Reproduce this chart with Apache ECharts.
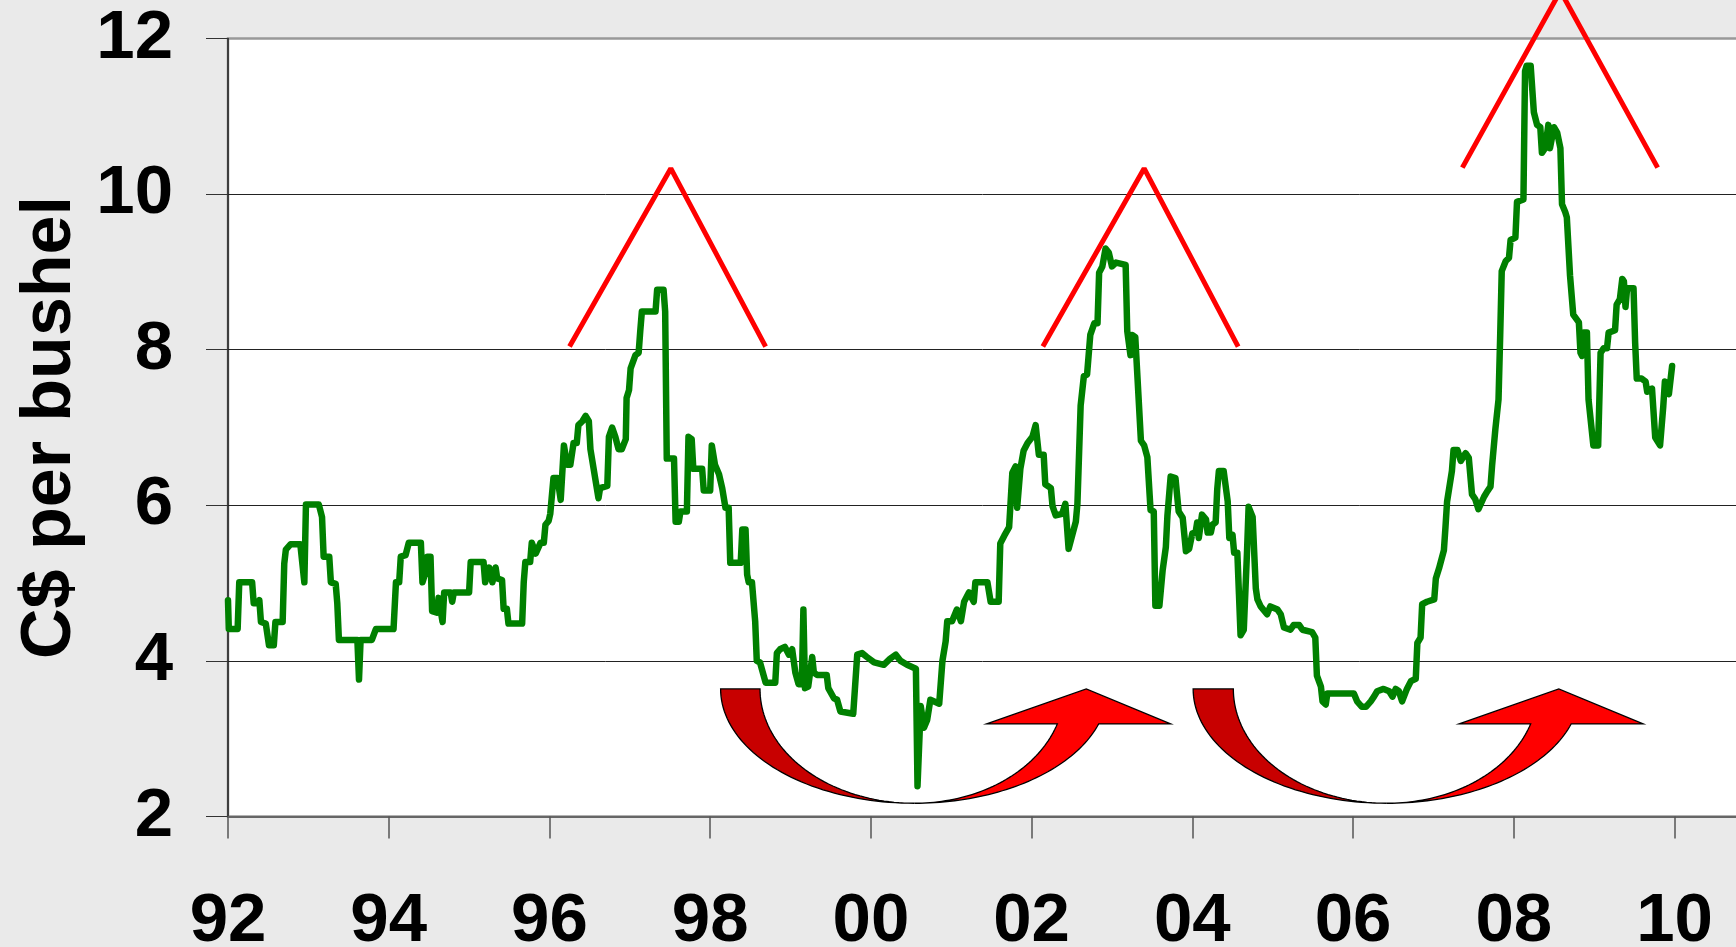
<!DOCTYPE html>
<html>
<head>
<meta charset="utf-8">
<title>C$ per bushel</title>
<script src="https://cdn.jsdelivr.net/npm/echarts@6/dist/echarts.min.js"></script>
<style>
    html, body { margin: 0; padding: 0; background: #eaeaea; }
    #main { width: 1736px; height: 947px; }
</style>
</head>
<body>
<div id="main"></div>
<script>
// 价格序列 (decimal year, C$ per bushel)
var dates = [
    1992.00, 1992.01, 1992.12, 1992.14, 1992.30, 1992.32, 1992.37, 1992.39, 1992.41, 1992.47,
    1992.51, 1992.57, 1992.59, 1992.68, 1992.70, 1992.72, 1992.78, 1992.90, 1992.95, 1992.97,
    1993.13, 1993.17, 1993.19, 1993.26, 1993.28, 1993.34, 1993.36, 1993.38, 1993.61, 1993.63,
    1993.65, 1993.79, 1993.84, 1994.06, 1994.09, 1994.13, 1994.15, 1994.21, 1994.25, 1994.40,
    1994.42, 1994.45, 1994.48, 1994.52, 1994.54, 1994.60, 1994.62, 1994.67, 1994.69, 1994.77,
    1994.79, 1994.81, 1995.00, 1995.02, 1995.18, 1995.20, 1995.25, 1995.29, 1995.33, 1995.35,
    1995.41, 1995.43, 1995.47, 1995.49, 1995.66, 1995.68, 1995.70, 1995.76, 1995.78, 1995.83,
    1995.89, 1995.93, 1995.95, 1995.99, 1996.01, 1996.05, 1996.10, 1996.14, 1996.18, 1996.22,
    1996.26, 1996.30, 1996.34, 1996.36, 1996.41, 1996.45, 1996.49, 1996.51, 1996.61, 1996.63,
    1996.72, 1996.74, 1996.78, 1996.82, 1996.86, 1996.90, 1996.95, 1996.96, 1996.99, 1997.01,
    1997.07, 1997.11, 1997.13, 1997.15, 1997.32, 1997.34, 1997.42, 1997.44, 1997.46, 1997.55,
    1997.57, 1997.61, 1997.63, 1997.71, 1997.73, 1997.77, 1997.79, 1997.90, 1997.92, 1998.00,
    1998.02, 1998.06, 1998.11, 1998.15, 1998.19, 1998.23, 1998.25, 1998.38, 1998.40, 1998.44,
    1998.46, 1998.48, 1998.52, 1998.56, 1998.58, 1998.62, 1998.69, 1998.81, 1998.83, 1998.87,
    1998.93, 1998.98, 1999.02, 1999.06, 1999.10, 1999.14, 1999.16, 1999.18, 1999.22, 1999.27,
    1999.29, 1999.33, 1999.45, 1999.47, 1999.54, 1999.58, 1999.62, 1999.78, 1999.83, 1999.89,
    1999.95, 2000.04, 2000.16, 2000.24, 2000.31, 2000.37, 2000.45, 2000.56, 2000.58, 2000.60,
    2000.62, 2000.66, 2000.70, 2000.74, 2000.85, 2000.89, 2000.93, 2000.95, 2001.01, 2001.07,
    2001.12, 2001.16, 2001.22, 2001.28, 2001.30, 2001.45, 2001.49, 2001.59, 2001.61, 2001.66,
    2001.72, 2001.74, 2001.76, 2001.80, 2001.82, 2001.86, 2001.90, 2001.95, 2002.01, 2002.05,
    2002.09, 2002.15, 2002.17, 2002.24, 2002.26, 2002.30, 2002.38, 2002.42, 2002.46, 2002.55,
    2002.57, 2002.61, 2002.65, 2002.69, 2002.73, 2002.78, 2002.82, 2002.84, 2002.88, 2002.92,
    2002.96, 2003.00, 2003.05, 2003.17, 2003.19, 2003.23, 2003.25, 2003.29, 2003.36, 2003.40,
    2003.44, 2003.48, 2003.52, 2003.54, 2003.59, 2003.63, 2003.67, 2003.69, 2003.73, 2003.79,
    2003.83, 2003.88, 2003.92, 2003.96, 2004.00, 2004.04, 2004.06, 2004.08, 2004.12, 2004.17,
    2004.19, 2004.23, 2004.25, 2004.29, 2004.31, 2004.33, 2004.39, 2004.44, 2004.46, 2004.50,
    2004.52, 2004.56, 2004.58, 2004.60, 2004.64, 2004.68, 2004.70, 2004.75, 2004.79, 2004.81,
    2004.85, 2004.93, 2004.97, 2005.06, 2005.10, 2005.14, 2005.22, 2005.26, 2005.33, 2005.37,
    2005.49, 2005.53, 2005.55, 2005.60, 2005.62, 2005.66, 2005.68, 2006.01, 2006.05, 2006.11,
    2006.16, 2006.22, 2006.26, 2006.30, 2006.38, 2006.45, 2006.49, 2006.53, 2006.57, 2006.61,
    2006.67, 2006.72, 2006.78, 2006.80, 2006.84, 2006.86, 2006.92, 2007.01, 2007.03, 2007.07,
    2007.13, 2007.15, 2007.17, 2007.23, 2007.25, 2007.30, 2007.34, 2007.40, 2007.44, 2007.48,
    2007.52, 2007.56, 2007.63, 2007.67, 2007.71, 2007.73, 2007.77, 2007.81, 2007.83, 2007.85,
    2007.90, 2007.94, 2007.96, 2008.02, 2008.04, 2008.12, 2008.14, 2008.16, 2008.21, 2008.25,
    2008.29, 2008.33, 2008.35, 2008.39, 2008.43, 2008.45, 2008.50, 2008.54, 2008.58, 2008.60,
    2008.64, 2008.66, 2008.70, 2008.74, 2008.81, 2008.83, 2008.85, 2008.87, 2008.91, 2008.93,
    2008.99, 2009.05, 2009.08, 2009.12, 2009.16, 2009.18, 2009.26, 2009.28, 2009.32, 2009.35,
    2009.37, 2009.39, 2009.41, 2009.49, 2009.51, 2009.53, 2009.59, 2009.64, 2009.66, 2009.72,
    2009.76, 2009.82, 2009.86, 2009.88, 2009.93, 2009.97
];
var prices = [
    4.78, 4.41, 4.41, 5.01, 5.01, 4.74, 4.74, 4.78, 4.50, 4.48,
    4.20, 4.20, 4.50, 4.50, 5.25, 5.43, 5.50, 5.50, 5.01, 6.01,
    6.01, 5.85, 5.34, 5.34, 5.01, 4.99, 4.74, 4.27, 4.27, 3.76,
    4.27, 4.27, 4.41, 4.41, 5.01, 5.01, 5.34, 5.36, 5.52, 5.52,
    5.01, 5.11, 5.34, 5.34, 4.64, 4.62, 4.81, 4.50, 4.88, 4.88,
    4.76, 4.88, 4.88, 5.27, 5.27, 5.01, 5.20, 5.01, 5.20, 5.06,
    5.04, 4.67, 4.67, 4.48, 4.48, 5.01, 5.27, 5.27, 5.52, 5.38,
    5.52, 5.52, 5.75, 5.80, 5.89, 6.35, 6.35, 6.07, 6.77, 6.52,
    6.52, 6.80, 6.80, 7.03, 7.08, 7.15, 7.08, 6.72, 6.09, 6.22,
    6.25, 6.88, 7.00, 6.88, 6.72, 6.72, 6.85, 7.38, 7.48, 7.76,
    7.93, 7.96, 8.24, 8.49, 8.49, 8.77, 8.77, 8.49, 6.60, 6.60,
    5.79, 5.79, 5.92, 5.92, 6.88, 6.85, 6.47, 6.47, 6.19, 6.19,
    6.77, 6.52, 6.40, 6.22, 5.97, 5.97, 5.26, 5.26, 5.69, 5.69,
    5.11, 5.01, 5.01, 4.51, 4.00, 3.98, 3.72, 3.72, 4.10, 4.15,
    4.18, 4.08, 4.15, 3.85, 3.70, 3.70, 4.66, 3.65, 3.67, 4.05,
    3.85, 3.82, 3.82, 3.65, 3.52, 3.50, 3.35, 3.32, 4.08, 4.10,
    4.05, 3.98, 3.95, 4.03, 4.08, 4.00, 3.95, 3.90, 2.39, 2.39,
    3.42, 3.14, 3.24, 3.50, 3.45, 4.00, 4.25, 4.51, 4.51, 4.66,
    4.51, 4.76, 4.88, 4.76, 5.01, 5.01, 4.76, 4.76, 5.51, 5.61,
    5.72, 6.07, 6.42, 6.50, 5.97, 6.47, 6.70, 6.80, 6.88, 7.03,
    6.65, 6.65, 6.27, 6.22, 5.99, 5.87, 5.89, 6.02, 5.44, 5.79,
    6.02, 7.28, 7.66, 7.68, 8.19, 8.34, 8.34, 8.99, 9.07, 9.30,
    9.25, 9.07, 9.12, 9.09, 8.24, 7.93, 8.19, 8.16, 6.83, 6.77,
    6.62, 5.94, 5.92, 4.71, 4.71, 5.16, 5.46, 5.87, 6.37, 6.35,
    5.92, 5.84, 5.41, 5.44, 5.64, 5.65, 5.78, 5.58, 5.88, 5.82,
    5.65, 5.65, 5.75, 5.78, 6.21, 6.44, 6.44, 6.05, 5.58, 5.62,
    5.39, 5.39, 4.86, 4.33, 4.40, 5.39, 5.98, 5.85, 4.93, 4.79,
    4.70, 4.60, 4.70, 4.66, 4.60, 4.43, 4.40, 4.46, 4.46, 4.40,
    4.37, 4.30, 3.81, 3.67, 3.48, 3.44, 3.58, 3.58, 3.48, 3.41,
    3.41, 3.48, 3.54, 3.61, 3.64, 3.61, 3.54, 3.64, 3.61, 3.48,
    3.64, 3.74, 3.77, 4.23, 4.30, 4.73, 4.76, 4.79, 5.06, 5.19,
    5.42, 5.72, 6.05, 6.44, 6.71, 6.71, 6.57, 6.67, 6.61, 6.14,
    6.08, 5.95, 6.11, 6.18, 6.24, 6.51, 6.97, 7.36, 8.15, 9.01,
    9.14, 9.18, 9.41, 9.44, 9.90, 9.93, 11.58, 11.65, 11.65, 11.05,
    10.89, 10.86, 10.53, 10.59, 10.89, 10.59, 10.86, 10.79, 10.59, 9.87,
    9.77, 9.70, 8.95, 8.45, 8.35, 7.96, 7.92, 8.22, 8.22, 7.36,
    6.77, 6.77, 7.96, 8.02, 8.02, 8.22, 8.25, 8.58, 8.65, 8.91,
    8.88, 8.55, 8.79, 8.79, 8.09, 7.63, 7.63, 7.59, 7.46, 7.50,
    6.87, 6.77, 7.27, 7.59, 7.43, 7.79
];

// 红色峰值标记 (left end, apex, right end)
var peakX = [
    [1996.25, 1997.51, 1998.69],
    [2002.14, 2003.40, 2004.57],
    [2007.36, 2008.58, 2009.79]
];
var peakY = [
    [8.04, 10.33, 8.04],
    [8.04, 10.33, 8.04],
    [10.34, 12.61, 10.34]
];

// 弯箭头: tailOuter, tailInner, bottom, shaftInner, headLeft, tip, headRight (years), top, barb, bottom (values)
var arrowMarks = [
    [1998.13, 1998.62, 2000.54, 2002.32, 2001.44, 2002.68, 2003.73, 3.64, 3.19, 2.17],
    [2004.01, 2004.51, 2006.42, 2008.21, 2007.32, 2008.56, 2009.61, 3.64, 3.19, 2.17]
];

var yTicks = [2, 4, 6, 8, 10, 12];

var priceData = dates.map(function (d, i) { return [d, prices[i]]; });

var FONT = "'Liberation Sans', Arial, sans-serif";

function renderArrow(params, api) {
    var A = api.coord([api.value(0), api.value(7)]);
    var B = api.coord([api.value(1), api.value(7)]);
    var C = api.coord([api.value(2), api.value(9)]);
    var E = api.coord([api.value(3), api.value(8)]);
    var F = api.coord([api.value(4), api.value(8)]);
    var G = api.coord([api.value(5), api.value(7)]);
    var H = api.coord([api.value(6), api.value(8)]);
    var cx = C[0], cy = A[1], ry = C[1] - A[1];
    var rxOut = cx - A[0], rxIn = cx - B[0];
    var n = 48, i, t;
    // 左侧暗红部分
    var back = [];
    for (i = 0; i <= n; i++) {
        t = Math.PI / 2 * i / n;
        back.push([cx - rxOut * Math.cos(t), cy + ry * Math.sin(t)]);
    }
    for (i = n; i >= 0; i--) {
        t = Math.PI / 2 * i / n;
        back.push([cx - rxIn * Math.cos(t), cy + ry * Math.sin(t)]);
    }
    // 右侧亮红部分 + 箭头
    var tD = Math.asin(Math.min(1, (F[1] - cy) / ry));
    var rxIn2 = (E[0] - cx) / Math.cos(tD);
    var front = [];
    for (i = 0; i <= n; i++) {
        t = Math.PI / 2 - (Math.PI / 2 - tD) * i / n;
        front.push([cx + rxOut * Math.cos(t), cy + ry * Math.sin(t)]);
    }
    front.push(H, G, F, E);
    for (i = 0; i <= n; i++) {
        t = tD + (Math.PI / 2 - tD) * i / n;
        front.push([cx + rxIn2 * Math.cos(t), cy + ry * Math.sin(t)]);
    }
    return {
        type: 'group',
        children: [{
            type: 'polygon',
            shape: { points: back },
            style: { fill: '#c80000', stroke: '#000', lineWidth: 1.3 }
        }, {
            type: 'polygon',
            shape: { points: front },
            style: { fill: '#ff0000', stroke: '#000', lineWidth: 1.3 }
        }]
    };
}

var series = [{
    name: 'price',
    type: 'line',
    data: priceData,
    showSymbol: false,
    symbol: 'none',
    lineStyle: { color: '#008000', width: 6.5, join: 'round', cap: 'round' },
    z: 3
}, {
    name: 'arrows',
    type: 'custom',
    renderItem: renderArrow,
    data: arrowMarks,
    encode: { x: [0, 1, 2, 3, 4, 5, 6], y: [7, 8, 9] },
    z: 2
}];
peakX.forEach(function (xs, k) {
    series.push({
        type: 'line',
        data: xs.map(function (x, i) { return [x, peakY[k][i]]; }),
        showSymbol: false,
        symbol: 'none',
        clip: false,
        lineStyle: { color: '#ff0000', width: 5 },
        z: 4
    });
});

var myChart = echarts.init(document.getElementById('main'));
var option = {
    backgroundColor: '#eaeaea',
    animation: false,
    grid: {
        left: 228,
        width: 1510,
        top: 38.5,
        bottom: 130.5,
        outerBoundsMode: 'none',
        containLabel: false,
        show: true,
        backgroundColor: '#fff',
        borderColor: '#999',
        borderWidth: 2.5
    },
    xAxis: {
        type: 'value',
        min: 1992,
        max: 2010.79,
        interval: 2,
        axisLine: { show: true, lineStyle: { color: '#666', width: 2 } },
        axisTick: { show: true, inside: false, length: 22, lineStyle: { color: '#555', width: 1.5 } },
        splitLine: { show: false },
        axisLabel: {
            margin: 105,
            verticalAlign: 'middle',
            color: '#000',
            fontSize: 69,
            fontWeight: 'bold',
            fontFamily: FONT,
            formatter: function (v) {
                var y = Math.round(v);
                if (Math.abs(v - y) > 1e-6 || y % 2 !== 0) return '';
                return String(y % 100).padStart(2, '0');
            }
        }
    },
    yAxis: {
        type: 'value',
        min: yTicks[0],
        max: yTicks[yTicks.length - 1],
        interval: 2,
        name: 'C$ per bushel',
        nameLocation: 'middle',
        nameGap: 140,
        nameTextStyle: { color: '#000', fontSize: 70, fontWeight: 'bold', fontFamily: FONT },
        axisLine: { show: true, lineStyle: { color: '#222', width: 1.5 } },
        axisTick: { show: true, inside: false, length: 22, lineStyle: { color: '#333', width: 1 } },
        splitLine: { show: true, showMinLine: false, showMaxLine: false, lineStyle: { color: '#222', width: 1 } },
        axisLabel: {
            margin: 55,
            color: '#000',
            fontSize: 69,
            fontWeight: 'bold',
            fontFamily: FONT
        }
    },
    series: series
};
option && myChart.setOption(option);
</script>
</body>
</html>
